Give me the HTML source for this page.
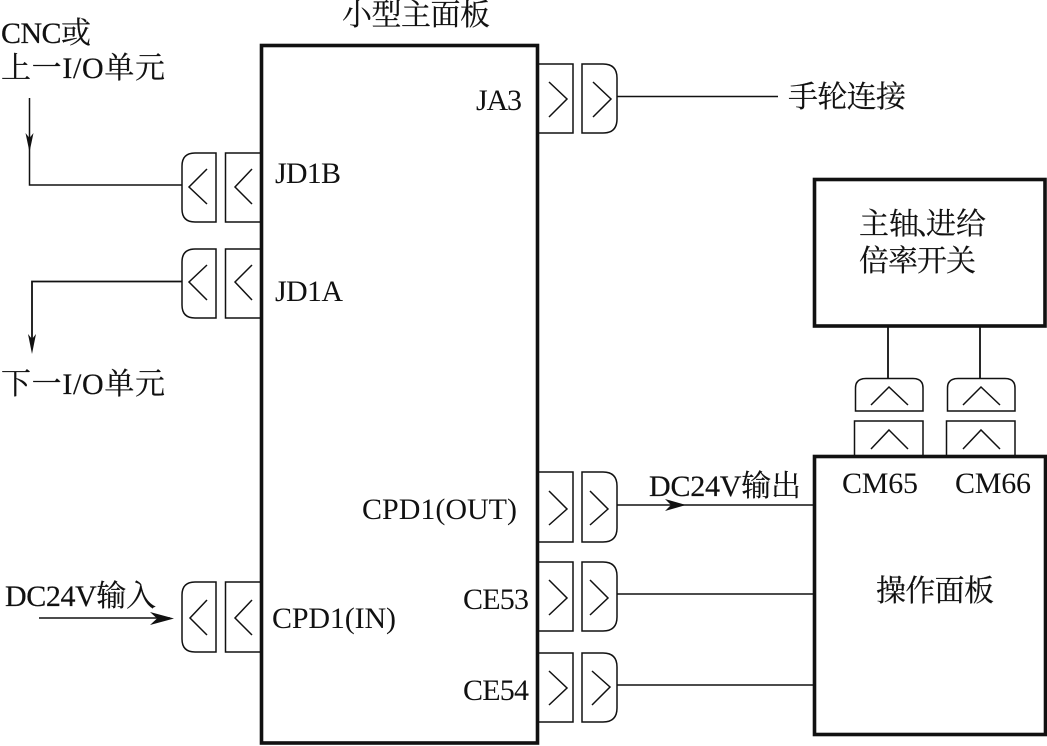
<!DOCTYPE html>
<html><head><meta charset="utf-8">
<style>
html,body{margin:0;padding:0;background:#fff;width:1047px;height:746px;overflow:hidden}
svg{display:block}
text{font-family:"Liberation Serif","Noto Serif CJK SC",serif;font-size:30px;fill:#111;stroke:#111;stroke-width:.2px}
.c{font-size:30px;stroke-width:0}
</style></head><body>
<svg width="1047" height="746" viewBox="0 0 1047 746" xmlns="http://www.w3.org/2000/svg">
<rect width="1047" height="746" fill="#fff"/>
<g fill="none" stroke="#111" stroke-width="3.6">
<rect x="261.5" y="45.5" width="276" height="697.5"/>
<rect x="814.5" y="179.5" width="230.5" height="146.5"/>
<rect x="814.5" y="456.5" width="231" height="278"/>
</g>
<g fill="none" stroke="#111" stroke-width="1.5">
<!-- left connectors -->
<path d="M260 153H225.500V222H260M216 153H195Q182 153 182 166V209Q182 222 195 222H216Z"/>
<path d="M252 169L235 187L252 204M207 169L189 187L207 204"/>
<path d="M260 249H225.500V318H260M216 249H195Q182 249 182 262V305Q182 318 195 318H216Z"/>
<path d="M252 265L235 282L252 300M207 265L189 282L207 300"/>
<path d="M260 582H225.500V652H260M216 582H195Q182 582 182 595V639Q182 652 195 652H216Z"/>
<path d="M252 600L235 618L252 635M207 600L190 618L207 635"/>
<!-- right connectors -->
<path d="M539 64H573V133H539M582 64H603Q617 64 617 78V119Q617 133 603 133H582Z"/>
<path d="M549 82L567 99L549 117M593 82L611 99L593 117"/>
<path d="M539 472H573V542H539M582 472H603Q617 472 617 486V528Q617 542 603 542H582Z"/>
<path d="M549 491L567 509L549 525M590 491L608 509L590 525"/>
<path d="M539 562H573V631H539M582 562H603Q617 562 617 576V617Q617 631 603 631H582Z"/>
<path d="M549 580L567 598L549 615M590 580L608 598L590 615"/>
<path d="M539 653H573V722H539M582 653H603Q617 653 617 667V708Q617 722 603 722H582Z"/>
<path d="M549 671L567 688L549 705M592 671L610 687L592 705"/>
<!-- top connectors -->
<path d="M855.500 411V388Q855.500 378.500 866 378.500H913Q923 378.500 923 388V411Z"/>
<path d="M854.500 455V421H923V455"/>
<path d="M871 405L889 387L908 405M871 449L889 430L908 449"/>
<path d="M947.500 411V388Q947.500 378.500 958 378.500H1005Q1015 378.500 1015 388V411Z"/>
<path d="M946.500 455V421H1015V455"/>
<path d="M963 405L981 387L1000 405M963 449L981 430L1000 449"/>
<!-- lines -->
<path d="M29.500 98V185H182"/>
<path d="M182 281.500H32V340" stroke-width="1.800"/>
<path d="M39 618H170"/>
<path d="M617 96.500H778M617 505H814M617 594H814M617 685H814"/>
<path d="M888 326V379M980 326V379" stroke-width="1.800"/>
</g>
<g fill="#111">
<path d="M29.500 152L25.500 133L29.500 138L33.500 133Z"/>
<path d="M32 354L28 334L32 339L36 334Z"/>
<path d="M174 618.500L150 612L157 618.500L150 625Z"/>
<path d="M686 505L665 499L671 505L665 511Z"/>
</g>
<text x="342" y="25" textLength="148">小型主面板</text>
<text x="1" y="43" textLength="90">CNC或</text>
<text x="1" y="78" textLength="164">上一I/O单元</text>
<text x="1" y="394" textLength="164">下一I/O单元</text>
<text class="c" x="275" y="183" textLength="66">JD1B</text>
<text class="c" x="275" y="301" textLength="68">JD1A</text>
<text class="c" x="476" y="110" textLength="46">JA3</text>
<text x="788" y="107" textLength="118">手轮连接</text>
<text x="859" y="234">主轴</text>
<text x="916" y="234">、</text>
<text x="926" y="234">进给</text>
<text x="859" y="271" textLength="117">倍率开关</text>
<text class="c" x="842" y="493" textLength="76">CM65</text>
<text class="c" x="955" y="493" textLength="76">CM66</text>
<text x="649" y="496" textLength="152">DC24V输出</text>
<text class="c" x="362" y="519" textLength="155">CPD1(OUT)</text>
<text class="c" x="463" y="609" textLength="66">CE53</text>
<text class="c" x="463" y="700" textLength="66">CE54</text>
<text x="876" y="601" textLength="118">操作面板</text>
<text x="5" y="606" textLength="151">DC24V输入</text>
<text class="c" x="272" y="628" textLength="124">CPD1(IN)</text>
</svg>
</body></html>
